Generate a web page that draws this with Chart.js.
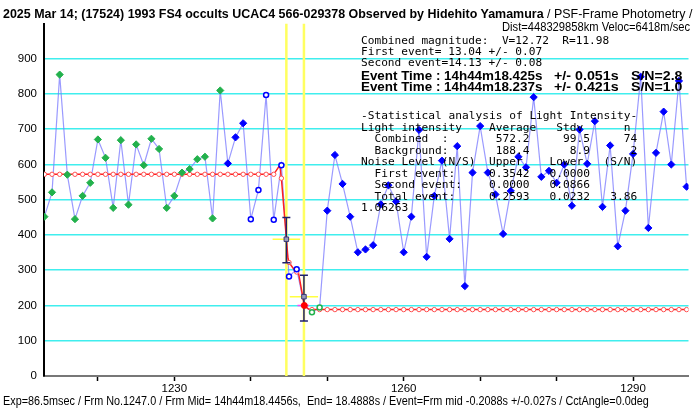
<!DOCTYPE html>
<html>
<head>
<meta charset="utf-8">
<script src="https://cdn.jsdelivr.net/npm/chart.js@4.4.1/dist/chart.umd.min.js"></script>
<style>
  body { margin: 0; background: #fff; }
  #wrap { position: relative; width: 694px; height: 409px; overflow: hidden; }
  #chart { position: absolute; left: 0; top: 0; }
  .t { position: absolute; white-space: pre; color: #000; transform-origin: 0 0; line-height: 1; font-family: 'Liberation Sans', Arial, sans-serif; }
  .mono { font-family: 'DejaVu Sans Mono', monospace; font-size: 11.2px; }
  .bold { font-weight: bold; font-size: 12.5px; }
</style>
</head>
<body>
<div id="wrap">
  <canvas id="chart" width="694" height="409"></canvas>
  <div class="t" id="title" style="left:3px; top:7px; font-size:13px;"><b>2025 Mar 14; (17524) 1993 FS4 occults UCAC4 566-029378 Observed by Hidehito Yamamura</b> / PSF-Frame Photometry /</div>
  <div class="t" id="dist" style="left:502px; top:21px; font-size:12px;">Dist=448329858km Veloc=6418m/sec</div>
  <div class="t mono" id="mag" style="left:361px; top:36px; line-height:10.8px;">Combined magnitude:  V=12.72  R=11.98
First event= 13.04 +/- 0.07
Second event=14.13 +/- 0.08</div>
  <div class="t bold" id="ev1a" style="left:361px; top:69.5px;">Event Time : 14h44m18.425s</div>
  <div class="t bold" id="ev1b" style="left:554px; top:69.5px;">+/- 0.051s</div>
  <div class="t bold" id="ev1c" style="left:631px; top:69.5px;">S/N=2.8</div>
  <div class="t bold" id="ev2a" style="left:361px; top:80.5px;">Event Time : 14h44m18.237s</div>
  <div class="t bold" id="ev2b" style="left:554px; top:80.5px;">+/- 0.421s</div>
  <div class="t bold" id="ev2c" style="left:631px; top:80.5px;">S/N=1.0</div>
  <div class="t mono" id="stats" style="left:361px; top:110px; line-height:11.5px;">-Statistical analysis of Light Intensity-
Light intensity    Average   Stdv      n
  Combined  :       572.2     99.5     74
  Background:       188.4      8.9      2
Noise Level (N/S)  Upper    Lower   (S/N)
  First event:     0.3542   0.0000
  Second event:    0.0000   0.0866
  Total event:     0.2593   0.0232   3.86
1.06263</div>
  <div class="t" id="foot" style="left:3px; top:395px; font-size:12px;">Exp=86.5msec / Frm No.1247.0 / Frm Mid= 14h44m18.4456s,  End= 18.4888s / Event=Frm mid -0.2088s +/-0.027s / CctAngle=0.0deg</div>
</div>
<script>
// observed light curve, one value per frame starting at firstFrame
const firstFrame = 1213;
const brightness = [
  452, 521, 855, 571, 445, 511, 548, 671, 619, 477,
  669, 486, 657, 598, 673, 644, 477, 511, 577, 587,
  615, 622, 447, 810, 603, 677, 717, 445, 528, 797,
  443, 598, 282, 303, 200, 181, 194, 469, 627, 545,
  452, 351, 359, 371, 487, 541, 495, 351, 452, 698,
  338, 511, 611, 389, 652, 255, 577, 709, 577, 515,
  403, 525, 622, 592, 791, 565, 582, 548, 600, 483,
  699, 602, 723, 480, 654, 368, 469, 630, 849, 420,
  633, 750, 600, 837, 537
];

// model (red) curve
const combinedLevel = 572.2;
const backgroundLevel = 188.4;
const modelPreEnd = 1243;
const modelPostStart = 1248;
const transFrames = [1243.8, 1244, 1244.65, 1244.86, 1245, 1245.7, 1246, 1246.25, 1247, 1247.55];
const transValues = [598, 561, 390, 334, 322, 301, 295, 291, 200, 190];

// events
const eventFrames = [1244.65, 1246.95];
const eventLevels = [388, 225];
const eventErrLow = [321, 156];
const eventErrHigh = [450, 286];
const eventFrameErr = [1.8, 1.85];
const markLevel = 200;
const markFrames = [1246.1, 1247.6];

const xTicks = [1220, 1230, 1240, 1250, 1260, 1270, 1280, 1290];
const xLabels = [1230, 1260, 1290];
const yTicks = [0, 100, 200, 300, 400, 500, 600, 700, 800, 900];

const frames = brightness.map((v, i) => firstFrame + i);
const obs = frames.map((f, i) => ({ x: f, y: brightness[i] }));

const model = [];
frames.forEach(f => { if (f <= modelPreEnd) model.push({ x: f, y: combinedLevel }); });
transFrames.forEach((f, i) => model.push({ x: f, y: transValues[i] }));
frames.forEach(f => { if (f >= modelPostStart) model.push({ x: f, y: backgroundLevel }); });

const kind = f => {
    if (f <= 1236) return 'green';
    if (f <= 1239 || f >= 1250) return 'blue';
    if (f === 1247) return 'red';
    if (f >= 1248) return 'greenOpen';
    return 'blueOpen';
};

const seg = (pts, color, width, extra) => Object.assign({
    data: pts, borderColor: color, borderWidth: width, pointRadius: 0, showLine: true, fill: false
}, extra || {});

const datasets = [];
// observed points on top
datasets.push({
    data: obs,
    showLine: false,
    pointStyle: c => { const k = kind(c.raw.x); return k.endsWith('Open') ? 'circle' : (k === 'red' ? 'circle' : 'rectRot'); },
    pointRadius: c => { const k = kind(c.raw.x); return k.endsWith('Open') ? 2.5 : (k === 'red' ? 3 : 3.6); },
    pointBackgroundColor: c => {
        const k = kind(c.raw.x);
        return k === 'green' ? '#22b14c' : k === 'blue' ? '#0000ff' : k === 'red' ? '#ff0000' : '#ffffff';
    },
    pointBorderColor: c => {
        const k = kind(c.raw.x);
        return k.startsWith('green') ? '#22b14c' : k === 'red' ? '#ff0000' : '#0000ff';
    },
    pointBorderWidth: c => kind(c.raw.x).endsWith('Open') ? 1.5 : 1
});
// event squares
datasets.push({
    data: eventFrames.map((f, i) => ({ x: f, y: eventLevels[i] })),
    showLine: false, pointStyle: 'rect', pointRadius: 3.2,
    pointBackgroundColor: '#9a9ab8', pointBorderColor: '#3a3a78', pointBorderWidth: 1
});
// error bars
eventFrames.forEach((f, i) => {
    datasets.push(seg([{ x: f, y: eventErrLow[i] }, { x: f, y: eventErrHigh[i] }], '#20206e', 1.5,
        { pointStyle: 'line', pointRadius: 4, pointBorderColor: '#20206e', pointBorderWidth: 1.5 }));
    datasets.push(seg([{ x: f - eventFrameErr[i], y: eventLevels[i] }, { x: f + eventFrameErr[i], y: eventLevels[i] }], '#ffff40', 1.5));
});
datasets.push(seg(markFrames.map(f => ({ x: f, y: markLevel })), '#ff40ff', 1.5));
// model
datasets.push({
    data: model, showLine: true, borderColor: '#ff2020', borderWidth: 1.5, fill: false,
    pointRadius: c => Number.isInteger(c.raw.x) ? 2.2 : 0,
    pointBackgroundColor: '#ffffff', pointBorderColor: '#ff5050', pointBorderWidth: 1
});
// yellow event lines
eventFrames.forEach(f => {
    datasets.push(seg([{ x: f, y: 0 }, { x: f, y: 1000 }], '#ffff60', 2.5));
});
// observed line at the bottom
datasets.push(seg(obs, 'rgba(120,120,255,0.75)', 1.2));

const tickFont = { family: "'Liberation Sans Narrow', 'Liberation Sans', Arial", size: 11.5 };

new Chart(document.getElementById('chart'), {
    type: 'scatter',
    data: { datasets },
    options: {
        responsive: false,
        animation: false,
        devicePixelRatio: 1,
        layout: { padding: { top: 23.5, right: 0, bottom: 0, left: 0 } },
        plugins: { legend: { display: false }, tooltip: { enabled: false }, title: { display: false } },
        elements: { line: { tension: 0 } },
        scales: {
            x: {
                type: 'linear', min: 1212.95, max: 1297.25,
                afterBuildTicks: s => { s.ticks = xTicks.map(v => ({ value: v })); },
                afterFit: s => { s.height = 33; },
                ticks: {
                    autoSkip: false, maxRotation: 0, padding: 1, color: '#000', font: tickFont,
                    callback: v => xLabels.includes(v) ? String(v) : ''
                },
                grid: { drawOnChartArea: false, drawTicks: true, tickLength: 5, tickColor: '#000', tickWidth: 1.5 },
                border: { color: '#777', width: 2 }
            },
            y: {
                min: 0, max: 1000,
                afterBuildTicks: s => { s.ticks = yTicks.map(v => ({ value: v })); },
                afterFit: s => { s.width = 44; },
                ticks: { padding: 7, color: '#000', font: tickFont },
                grid: {
                    drawTicks: false,
                    color: c => c.tick && c.tick.value === 0 ? 'rgba(0,0,0,0)' : '#40eeee',
                    lineWidth: 1.6
                },
                border: { color: '#000', width: 2 }
            }
        }
    }
});

const fit = (id, w) => {
    const el = document.getElementById(id);
    el.style.transform = `scaleX(${w / el.offsetWidth})`;
};
fit('title', 689);
fit('dist', 188);
fit('mag', 248);
fit('stats', 276);
fit('ev1a', 181); fit('ev2a', 181);
fit('ev1b', 65); fit('ev2b', 65);
fit('ev1c', 52); fit('ev2c', 52);
fit('foot', 646);
</script>
</body>
</html>
